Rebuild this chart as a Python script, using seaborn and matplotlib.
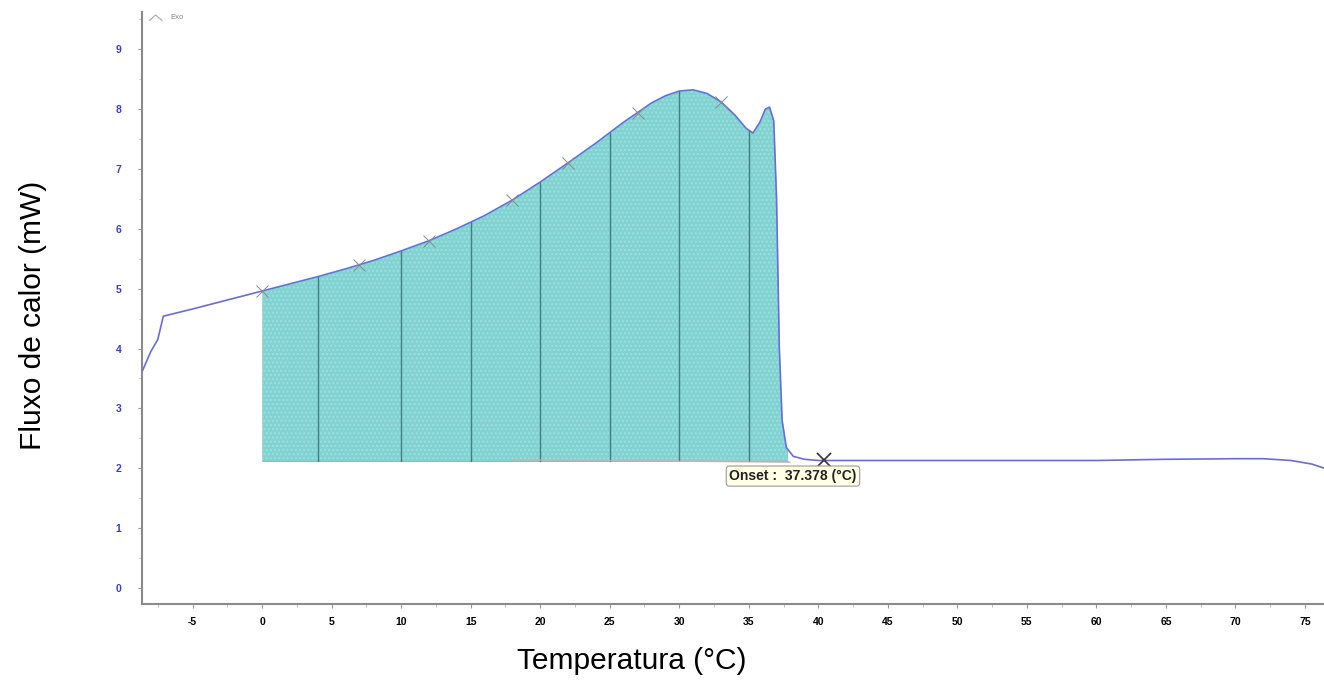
import numpy as np
import pandas as pd
import matplotlib
matplotlib.use("Agg")
import matplotlib.pyplot as plt
import seaborn as sns

# DSC heating curve: temperature (°C) and heat flow (mW)
temperature = [-8.6, -8.0, -7.5, -7.1, -5.0, -2.5, 0.0, 2.0, 4.0, 6.0, 8.0, 10.0,
               12.0, 14.0, 16.0, 18.0, 20.0, 22.0, 24.0, 26.0, 28.0, 29.0, 30.0,
               31.0, 32.0, 33.0, 34.0, 34.8, 35.3, 35.8, 36.2, 36.5, 36.8, 37.0,
               37.2, 37.4, 37.7, 38.2, 39.0, 40.0, 50.0, 60.0, 65.0, 70.0, 72.0,
               74.0, 75.5, 76.4]
heat_flow = [3.63, 3.95, 4.15, 4.54, 4.66, 4.81, 4.96, 5.08, 5.20, 5.33, 5.47, 5.63,
             5.80, 6.00, 6.22, 6.48, 6.78, 7.10, 7.43, 7.78, 8.10, 8.22, 8.30,
             8.32, 8.26, 8.12, 7.90, 7.68, 7.60, 7.78, 8.00, 8.03, 7.80, 6.50,
             4.00, 2.80, 2.35, 2.20, 2.15, 2.13, 2.13, 2.13, 2.15, 2.16, 2.16,
             2.13, 2.07, 2.00]

# Integration limits, baseline and partial-area dividers
peak_start = 0.0
peak_end = 37.8
baseline = 2.12
dividers = [4, 10, 15, 20, 25, 30, 35]
marks = [0, 7, 12, 18, 22, 27, 33]

onset_temp = 40.4
onset_flow = 2.13
onset_text = "Onset :  37.378 (°C)"

x_ticks = [-5, 0, 5, 10, 15, 20, 25, 30, 35, 40, 45, 50, 55, 60, 65, 70, 75]
y_ticks = [0, 1, 2, 3, 4, 5, 6, 7, 8, 9]

df = pd.DataFrame({"Temperatura": temperature, "Fluxo": heat_flow})

sns.set_style("white")
plt.rcParams["font.family"] = ["Liberation Sans", "DejaVu Sans"]
plt.rcParams["axes.unicode_minus"] = False

fig = plt.figure(figsize=(13.24, 6.9), dpi=100)
ax = fig.add_axes([0.1073, 0.1246, 0.8927, 0.858])

t = np.asarray(temperature)
q = np.asarray(heat_flow)
mask = (t >= peak_start) & (t <= peak_end)
t_fill = np.append(t[mask], peak_end)
q_fill = np.append(q[mask], np.interp(peak_end, t, q))

# shaded peak area
ax.fill_between(t_fill, baseline, q_fill, color="#80d3d1", linewidth=0, zorder=1)
ax.fill_between(t_fill, baseline, q_fill, facecolor="none", edgecolor="#9fdedd",
                hatch="....", linewidth=0, zorder=1)
ax.plot([peak_start, peak_start], [baseline, np.interp(peak_start, t, q)],
        color="#a8d8d0", lw=0.8, zorder=2)

# partial area dividers
for d in dividers:
    ax.plot([d, d], [baseline, np.interp(d, t, q)], color="#3e7f82", lw=1.0, zorder=2)

# integration baseline
ax.plot([18, 38], [2.14, 2.10], color="#e0a8a8", lw=0.8, zorder=2)
ax.plot([peak_start, peak_end], [baseline, baseline], color="#6fbfbd", lw=0.6, zorder=1)

sns.lineplot(data=df, x="Temperatura", y="Fluxo", ax=ax, color="#6b6be0",
             lw=1.2, zorder=3, sort=False)

# small cross marks along the curve
for m in marks:
    ax.plot(m, np.interp(m, t, q), marker="x", ms=9, mew=0.7, color="#8a8a8a", zorder=4)

# onset marker and label
ax.plot(onset_temp, onset_flow, marker="x", ms=10, mew=1.2, color="#333333", zorder=5)
ax.text(33.6, 1.87, onset_text, fontsize=10, fontweight="bold", color="#222222",
        va="center", ha="left", zorder=6,
        bbox=dict(boxstyle="round,pad=0.22", facecolor="#ffffe4", edgecolor="#9a9a9a",
                  linewidth=0.8))

# exotherm direction indicator
ax.plot([-8.1, -7.65, -7.2], [9.48, 9.57, 9.48], color="#b0b0b0", lw=0.9)
ax.text(-6.6, 9.535, "Exo", fontsize=5.5, color="#888888", va="center", ha="left")

ax.set_xlim(-8.63, 76.37)
ax.set_ylim(-0.267, 9.62)
ax.set_xticks(x_ticks)
ax.set_yticks(y_ticks)
ax.set_xticks(np.arange(-7.5, 76, 2.5), minor=True)
ax.set_yticks(np.arange(-0.0, 9.6, 0.5), minor=True)
ax.tick_params(axis="x", which="major", labelsize=7.5, length=3, color="#999999",
               labelcolor="black", pad=6, direction="out")
ax.tick_params(axis="y", which="major", labelsize=7.5, length=3, color="#999999",
               labelcolor="#3a3ad8", pad=12, direction="out")
ax.tick_params(which="minor", length=2, color="#bbbbbb")
ax.tick_params(bottom=True, left=True, which="both")
for lab in ax.get_xticklabels() + ax.get_yticklabels():
    lab.set_fontweight("bold")

for side in ["top", "right"]:
    ax.spines[side].set_visible(False)
for side in ["left", "bottom"]:
    ax.spines[side].set_color("#8a8a8a")
    ax.spines[side].set_linewidth(1.5)

ax.set_xlabel("")
ax.set_ylabel("")
fig.text(0.4775, 0.022, "Temperatura (°C)", fontsize=21.5, ha="center", va="bottom",
         color="black")
fig.text(0.025, 0.543, "Fluxo de calor (mW)", fontsize=21.5, rotation=90,
         ha="center", va="center", color="black")

fig.savefig("out.png", dpi=100)
